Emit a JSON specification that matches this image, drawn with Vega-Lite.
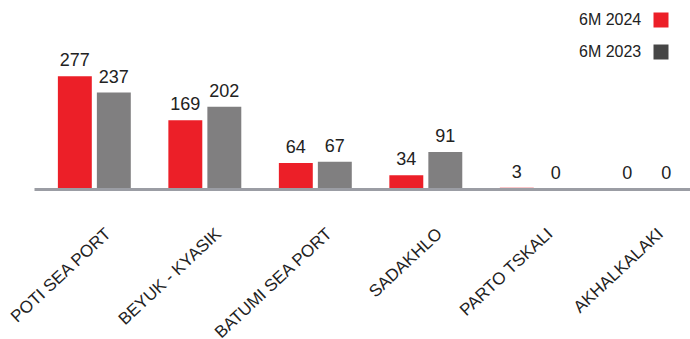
{
  "$schema": "https://vega.github.io/schema/vega-lite/v6.json",
  "width": 656,
  "height": 179,
  "autosize": {"type": "none"},
  "padding": {"left": 34, "top": 10, "right": 0, "bottom": 150},
  "background": "white",
  "config": {"view": {"stroke": null}, "font": "Liberation Sans"},
  "data": {
    "values": [
      {"port": "POTI SEA PORT", "period": "6M 2024", "value": 277},
      {"port": "POTI SEA PORT", "period": "6M 2023", "value": 237},
      {"port": "BEYUK - KYASIK", "period": "6M 2024", "value": 169},
      {"port": "BEYUK - KYASIK", "period": "6M 2023", "value": 202},
      {"port": "BATUMI SEA PORT", "period": "6M 2024", "value": 64},
      {"port": "BATUMI SEA PORT", "period": "6M 2023", "value": 67},
      {"port": "SADAKHLO", "period": "6M 2024", "value": 34},
      {"port": "SADAKHLO", "period": "6M 2023", "value": 91},
      {"port": "PARTO TSKALI", "period": "6M 2024", "value": 3},
      {"port": "PARTO TSKALI", "period": "6M 2023", "value": 0},
      {"port": "AKHALKALAKI", "period": "6M 2024", "value": 0},
      {"port": "AKHALKALAKI", "period": "6M 2023", "value": 0}
    ]
  },
  "encoding": {
    "x": {
      "field": "port",
      "type": "nominal",
      "sort": null,
      "scale": {"paddingInner": 0.34, "paddingOuter": 0.1385, "align": 0.78},
      "axis": {
        "title": null,
        "ticks": false,
        "labelAngle": -43,
        "labelAlign": "right",
        "labelBaseline": "middle",
        "labelPadding": 42,
        "labelOffset": 14,
        "labelFontSize": 17,
        "labelColor": "#222222",
        "labelFont": "Liberation Sans",
        "domainColor": "#9b9da4",
        "domainWidth": 3,
        "zindex": 1
      }
    },
    "xOffset": {
      "field": "period",
      "type": "nominal",
      "sort": ["6M 2024", "6M 2023"],
      "scale": {"paddingInner": 0.13}
    },
    "y": {
      "field": "value",
      "type": "quantitative",
      "scale": {"domain": [0, 440], "nice": false},
      "axis": null
    }
  },
  "layer": [
    {
      "mark": {"type": "bar"},
      "encoding": {
        "color": {
          "field": "period",
          "type": "nominal",
          "scale": {"domain": ["6M 2024", "6M 2023"], "range": ["#EC1F28", "#807F80"]},
          "legend": null
        }
      }
    },
    {
      "mark": {"type": "bar", "opacity": 0},
      "encoding": {
        "color": {
          "field": "period",
          "type": "nominal",
          "scale": {"domain": ["6M 2024", "6M 2023"], "range": ["#EC1F28", "#464646"]},
          "legend": {
            "title": null,
            "orient": "none",
            "legendX": 545,
            "legendY": 2,
            "padding": 0,
            "symbolType": "square",
            "symbolSize": 225,
            "symbolStrokeWidth": 0,
            "symbolOpacity": 1,
            "rowPadding": 16,
            "labelFontSize": 16,
            "labelColor": "#222222",
            "labelFont": "Liberation Sans",
            "encode": {
              "labels": {"update": {"x": {"value": 0}, "align": {"value": "left"}}},
              "symbols": {"update": {"x": {"value": 82}}}
            }
          }
        }
      }
    },
    {
      "mark": {"type": "text", "baseline": "bottom", "dy": -6, "fontSize": 18, "color": "#222222", "font": "Liberation Sans"},
      "encoding": {"text": {"field": "value", "type": "quantitative"}}
    }
  ],
  "resolve": {"scale": {"color": "independent"}}
}
